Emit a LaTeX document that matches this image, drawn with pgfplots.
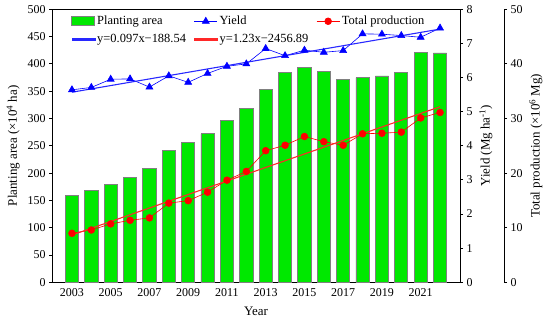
\documentclass[border=0pt]{standalone}
\usepackage{fontspec}
\setmainfont{Liberation Serif}
\usepackage{pgfplots}
\pgfplotsset{compat=1.18}
\definecolor{bargreen}{RGB}{0,232,0}
\definecolor{bargray}{RGB}{128,128,128}
\definecolor{fitblue}{RGB}{40,40,255}
\definecolor{fitred}{RGB}{255,40,40}

\pgfplotsset{
  barlegend/.style={legend image code/.code={\draw[fill=bargreen, draw=bargray, line width=0.8pt] (0bp,-4.5bp) rectangle (23bp,4.5bp);}},
  marklegend/.style={legend image code/.code={\draw[##1] plot coordinates {(0bp,0bp) (11.5bp,0bp) (23bp,0bp)};}, mark repeat=2, mark phase=2},
  bluelegend/.style={legend image code/.code={\draw[fill=fitblue, draw=fitblue, line width=0.3pt] (0bp,-0.7bp) rectangle (23bp,0.7bp);}},
  redlegend/.style={legend image code/.code={\draw[fill=fitred, draw=fitred, line width=0.3pt] (0bp,-0.7bp) rectangle (23bp,0.7bp);}},
}

\pgfplotstableread{
year area
2003 159
2004 168
2005 180
2006 192
2007 208
2008 241
2009 256
2010 272
2011 296
2012 318
2013 354
2014 384
2015 394
2016 386
2017 372
2018 375
2019 378
2020 384
2021 421
2022 420
}\areatable

\pgfplotstableread{
year yield
2003 5.64
2004 5.71
2005 5.95
2006 5.96
2007 5.72
2008 6.05
2009 5.86
2010 6.12
2011 6.33
2012 6.40
2013 6.85
2014 6.64
2015 6.80
2016 6.74
2017 6.79
2018 7.28
2019 7.27
2020 7.23
2021 7.18
2022 7.45
}\yieldtable

\pgfplotstableread{
year prod
2003 8.97
2004 9.58
2005 10.7
2006 11.35
2007 11.8
2008 14.5
2009 14.95
2010 16.5
2011 18.7
2012 20.3
2013 24.1
2014 25.1
2015 26.7
2016 25.75
2017 25.1
2018 27.2
2019 27.3
2020 27.5
2021 30.1
2022 31.1
}\prodtable

\begin{document}
\begin{tikzpicture}
\pgfplotsset{
  every axis/.append style={
    scale only axis,
    height=273bp,
    xmin=2001.97,
    ymin=0,
    tick align=outside,
    major tick length=3bp,
    axis line style={line width=0.9pt, black},
    every tick/.style={line width=0.9pt, black},
    /pgf/number format/assume math mode=true,
    tick label style={font=\fontsize{12}{14}\selectfont},
    label style={font=\fontsize{13}{15}\selectfont},
  },
}
% Axis 1: planting area bars
\begin{axis}[
  name=main,
  width=408bp,
  xmax=2023.03,
  ymax=500,
  ytick={0,50,...,500},
  xtick={2003,2005,...,2021},
  xticklabel style={/pgf/number format/1000 sep={}},
  x tick style={draw=none},
  ytick pos=left,
  xtick pos=bottom,
  ylabel={Planting area (×10\textsuperscript{4} ha)},
  xlabel={Year},
  xlabel style={yshift=-3bp},
  ylabel style={yshift=1bp},
]
\addplot[ybar, bar width=0.68, fill=bargreen, draw=bargray, line width=0.8pt] table[x=year, y=area] {\areatable};
\end{axis}

% Axis 2: yield
\begin{axis}[
  width=408bp,
  xmax=2023.03,
  ymax=8,
  ytick={0,1,...,8},
  axis y line*=right,
  axis x line=none,
  ylabel={Yield (Mg ha\textsuperscript{-1})},
]
\addplot[blue, line width=0.6pt, mark=triangle*, mark size=4bp, mark options={solid}] table[x=year, y=yield] {\yieldtable};
\addplot[fitblue, line width=1.1pt, no marks] coordinates {(2003,5.57) (2022,7.42)};
\end{axis}

% Axis 3: total production (offset right axis)
\begin{axis}[
  width=452bp,
  xmax=2025.30,
  ymax=50,
  ytick={0,10,...,50},
  axis y line*=right,
  axis x line=none,
  ylabel={Total production (×10\textsuperscript{6} Mg)},
  legend columns=3,
  legend style={
    at={(0.036,0.99)}, anchor=north west,
    draw=none, fill=none,
    font=\fontsize{12.5}{14}\selectfont,
    row sep=4bp,
    /tikz/every even column/.append style={column sep=6bp},
  },
  legend cell align=left,
]
\addplot[red, line width=0.6pt, mark=*, mark size=3.4bp, forget plot] table[x=year, y=prod] {\prodtable};
\addplot[fitred, line width=1.1pt, no marks, forget plot] coordinates {(2003,8.66) (2022,32.16)};
\addlegendimage{barlegend}
\addlegendentry{Planting area}
\addlegendimage{blue, line width=0.6pt, mark=triangle*, mark size=4bp, marklegend}
\addlegendentry{Yield}
\addlegendimage{red, line width=0.6pt, mark=*, mark size=3.4bp, marklegend}
\addlegendentry{Total production}
\addlegendimage{bluelegend}
\addlegendentry{y=0.097x−188.54}
\addlegendimage{redlegend}
\addlegendentry{y=1.23x−2456.89}
\end{axis}
\pgfresetboundingbox
\path ([xshift=-52bp,yshift=-39.7bp]main.south west) rectangle ([xshift=90bp,yshift=9.3bp]main.north east);
\end{tikzpicture}
\end{document}
